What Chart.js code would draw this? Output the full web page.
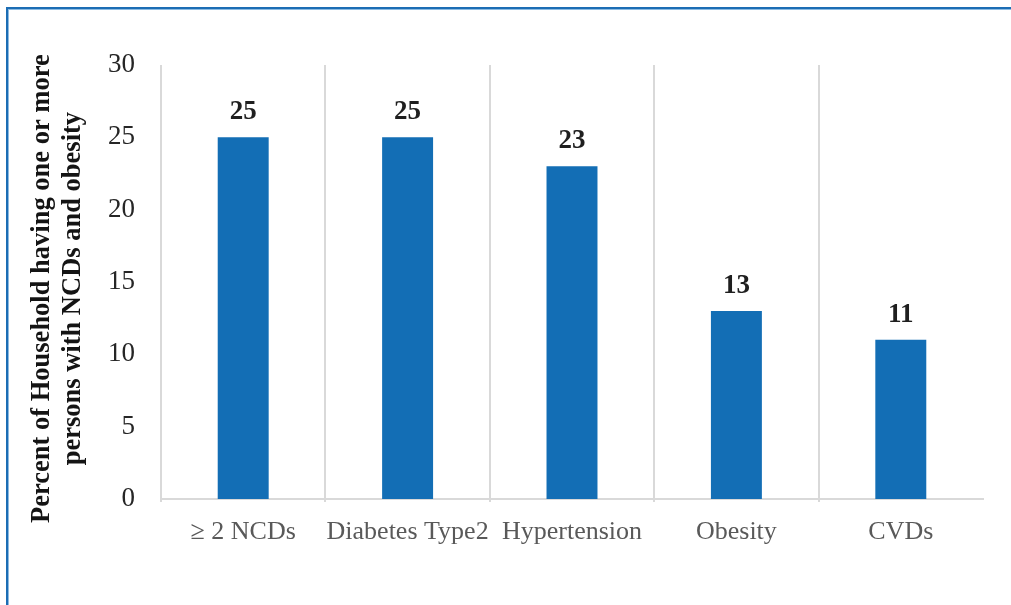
<!DOCTYPE html>
<html>
<head>
<meta charset="utf-8">
<script src="https://cdn.jsdelivr.net/npm/chart.js@4"></script>
<style>
  html, body { margin: 0; padding: 0; background: #ffffff; width: 1011px; height: 605px; overflow: hidden; }
  #frame { position: absolute; left: 6px; top: 7px; width: 1100px; height: 700px; border: 2px solid #1c6db4; box-shadow: inset 1px 1px 0 #8cbbe2; box-sizing: border-box; }
  #wrap { position: absolute; left: 0; top: 0; width: 1011px; height: 605px; }
</style>
</head>
<body>
<div id="frame"></div>
<div id="wrap"><canvas id="c" width="1011" height="605"></canvas></div>
<script>
const categories = ['\u2265 2 NCDs', 'Diabetes Type2', 'Hypertension', 'Obesity', 'CVDs'];
const values = [25, 25, 23, 13, 11];
const yTicks = [0, 5, 10, 15, 20, 25, 30];
const yTitle = ['Percent of Household having one or more\u2002', 'persons with NCDs and obesity\u2002'];

const SERIF = '"Liberation Serif", "Times New Roman", serif';

const valueLabels = {
  id: 'valueLabels',
  afterDatasetsDraw(chart) {
    const ctx = chart.ctx;
    const meta = chart.getDatasetMeta(0);
    ctx.save();
    ctx.font = 'bold 27px ' + SERIF;
    ctx.fillStyle = '#1f1f1f';
    ctx.textAlign = 'center';
    ctx.textBaseline = 'alphabetic';
    meta.data.forEach((bar, i) => {
      ctx.fillText(String(values[i]), bar.x, bar.y - 18);
    });
    ctx.restore();
  }
};

new Chart(document.getElementById('c'), {
  type: 'bar',
  data: {
    labels: categories,
    datasets: [{
      data: values,
      backgroundColor: '#136eb5',
      borderWidth: 0,
      barPercentage: 0.31,
      categoryPercentage: 1.0
    }]
  },
  options: {
    responsive: false,
    animation: false,
    devicePixelRatio: 1,
    layout: { padding: { left: 0, top: 65, right: 28, bottom: 0 } },
    plugins: { legend: { display: false }, tooltip: { enabled: false } },
    scales: {
      x: {
        grid: {
          display: true,
          offset: true,
          drawOnChartArea: true,
          drawTicks: true,
          tickLength: 3,
          lineWidth: 2,
          color: (c) => (c.type === 'tick' ? '#d9d9d9' : 'rgba(0,0,0,0)')
        },
        border: { display: true, color: '#d9d9d9', width: 2 },
        ticks: {
          color: '#595959',
          font: { family: SERIF, size: 26 },
          padding: 15,
          maxRotation: 0,
          autoSkip: false
        },
        afterFit(s) { s.height = 605 - 499; }
      },
      y: {
        min: 0,
        max: 30,
        afterBuildTicks(s) { s.ticks = yTicks.map(v => ({ value: v })); },
        grid: { display: false, drawTicks: false },
        border: { display: false },
        ticks: {
          color: '#262626',
          font: { family: SERIF, size: 27 },
          padding: 26
        },
        title: {
          display: true,
          text: yTitle,
          color: '#141414',
          font: { family: SERIF, size: 26.5, weight: 'bold', lineHeight: 1.19 },
          padding: { top: 26, bottom: 0 }
        },
        afterFit(s) { s.width = 161; }
      }
    }
  },
  plugins: [valueLabels]
});
</script>
</body>
</html>
